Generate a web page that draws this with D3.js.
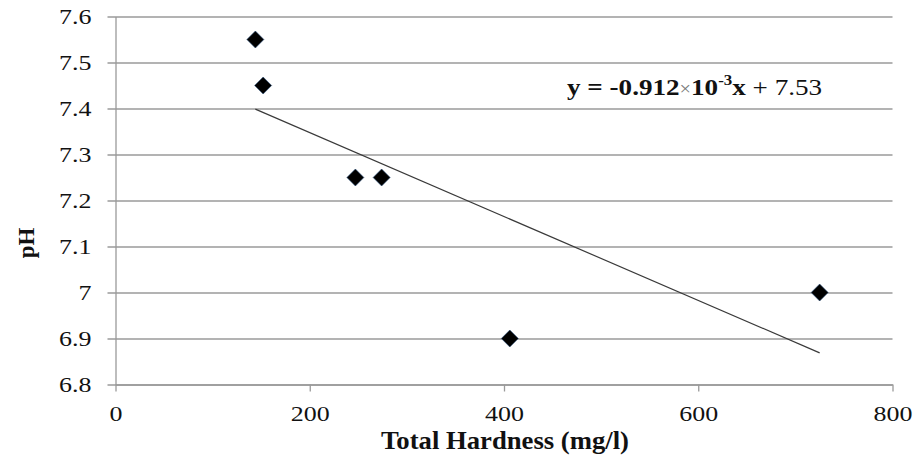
<!DOCTYPE html>
<html>
<head>
<meta charset="utf-8">
<script src="https://cdn.jsdelivr.net/npm/d3@7"></script>
<style>
  body { margin: 0; background: #fff; }
</style>
</head>
<body>
<div id="chart"></div>
<script>
// data
const hardness = [144, 152, 247, 274, 406, 725];
const ph = [7.55, 7.45, 7.25, 7.25, 6.90, 7.00];
const xTicks = [0, 200, 400, 600, 800];
const yTicks = [6.8, 6.9, 7, 7.1, 7.2, 7.3, 7.4, 7.5, 7.6];
const trendSlope = -0.912e-3;
const trendIntercept = 7.53;

const serif = "'Liberation Serif'";
const W = 915, H = 459;
const svg = d3.select("#chart").append("svg")
  .attr("width", W)
  .attr("height", H);

// plot box
const plotL = 115.5, plotR = 892.5, plotT = 16.5, plotB = 384.5;

const x = d3.scaleLinear().domain([0, 800]).range([plotL, plotR]);
const y = d3.scaleLinear().domain([6.8, 7.6]).range([plotB, plotT]);

// the original text is a bit stretched sideways
function widen(sel, k) {
  sel.each(function() {
    const w = this.getComputedTextLength();
    d3.select(this).attr("textLength", w * k).attr("lengthAdjust", "spacingAndGlyphs");
  });
}

// horizontal gridlines + y axis
const yAxis = svg.append("g")
  .attr("transform", `translate(${plotL},0)`)
  .call(d3.axisLeft(y).tickValues(yTicks).tickSize(8).tickSizeOuter(0)
    .tickFormat(d => d3.format("")(d)));
yAxis.attr("font-family", serif).attr("font-size", 22);
yAxis.select(".domain").attr("stroke", "#9a9a9a").attr("stroke-width", 1.3);
yAxis.selectAll(".tick line").attr("stroke", "#9a9a9a").attr("stroke-width", 1.3)
  .attr("x1", -8).attr("x2", plotR - plotL);
yAxis.selectAll(".tick text")
  .attr("x", -24)
  .attr("dy", "0.34em")
  .attr("fill", "#111")
  .attr("font-family", serif)
  .style("font-family", serif)
  .style("font-size", "22px")
  .call(widen, 1.18);

// x axis
const xAxis = svg.append("g")
  .attr("transform", `translate(0,${plotB})`)
  .call(d3.axisBottom(x).tickValues(xTicks).tickSize(7).tickSizeOuter(0));
xAxis.attr("font-family", serif).attr("font-size", 22);
xAxis.select(".domain").attr("stroke", "#9a9a9a").attr("stroke-width", 1.3);
xAxis.selectAll(".tick line").attr("stroke", "#9a9a9a").attr("stroke-width", 1.3);
xAxis.selectAll(".tick text")
  .attr("y", 21)
  .attr("dy", "0.71em")
  .attr("fill", "#111")
  .attr("font-family", serif)
  .style("font-family", serif)
  .style("font-size", "22px")
  .call(widen, 1.18);

// trend line from first to last x
const xExt = d3.extent(hardness);
const trend = xExt.map(v => ({ x: v, y: trendSlope * v + trendIntercept }));
svg.append("path")
  .datum(trend)
  .attr("fill", "none")
  .attr("stroke", "#3a3a3a")
  .attr("stroke-width", 1.2)
  .attr("d", d3.line().x(d => x(d.x)).y(d => y(d.y)));

// diamond markers
const pts = hardness.map((h, i) => ({ x: h, y: ph[i] }));
svg.append("g")
  .selectAll("path")
  .data(pts)
  .enter()
  .append("path")
    .attr("transform", d => `translate(${x(d.x)},${y(d.y)})`)
    .attr("d", "M0,-8.5L8.5,0L0,8.5L-8.5,0Z")
    .attr("fill", "#000")
    .attr("stroke", "#2a4f7a")
    .attr("stroke-width", 0.6);

// equation
const eq = svg.append("g")
  .attr("transform", "translate(567,95) scale(1.13,1)")
  .append("text")
  .attr("fill", "#111")
  .attr("font-family", serif)
  .style("font-family", serif)
  .style("font-size", "24px");
eq.append("tspan").attr("font-weight", "bold").text("y = -0.912");
eq.append("tspan").attr("fill", "#777").style("font-size", "18px").text("×");
eq.append("tspan").attr("font-weight", "bold").text("10");
eq.append("tspan").attr("font-weight", "bold").attr("dy", -10).style("font-size", "15px").text("-3");
eq.append("tspan").attr("font-weight", "bold").attr("dy", 10).text("x");
eq.append("tspan").text(" + 7.53");

// axis titles
svg.append("text")
  .attr("x", 505)
  .attr("y", 449)
  .attr("text-anchor", "middle")
  .attr("font-weight", "bold")
  .attr("fill", "#111")
  .attr("textLength", 248)
  .attr("lengthAdjust", "spacingAndGlyphs")
  .attr("font-family", serif)
  .style("font-family", serif)
  .style("font-size", "26px")
  .text("Total Hardness  (mg/l)");

svg.append("text")
  .attr("transform", "translate(34,243) rotate(-90)")
  .attr("text-anchor", "middle")
  .attr("font-weight", "bold")
  .attr("fill", "#111")
  .attr("font-family", serif)
  .style("font-family", serif)
  .style("font-size", "23px")
  .text("pH");
</script>
</body>
</html>
